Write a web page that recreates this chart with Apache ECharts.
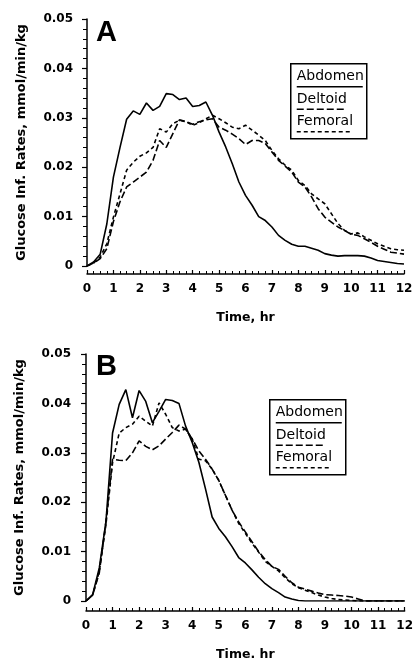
<!DOCTYPE html>
<html>
<head>
<meta charset="utf-8">
<script src="https://cdn.jsdelivr.net/npm/echarts@6/dist/echarts.min.js"></script>
<style>
  html, body { margin: 0; padding: 0; background: #fff; }
  #chart { width: 416px; height: 662px; }
</style>
</head>
<body>
<div id="chart"></div>
<script>
// time, hr (quarter-hour readings)
var hours = [0, 0.25, 0.5, 0.75, 1, 1.25, 1.5, 1.75, 2, 2.25, 2.5, 2.75, 3, 3.25, 3.5, 3.75,
  4, 4.25, 4.5, 4.75, 5, 5.25, 5.5, 5.75, 6, 6.25, 6.5, 6.75, 7, 7.25, 7.5, 7.75,
  8, 8.25, 8.5, 8.75, 9, 9.25, 9.5, 9.75, 10, 10.25, 10.5, 10.75, 11, 11.25, 11.5, 11.75, 12];

// panel A
var abdomenA = [0, 0.0008, 0.0024, 0.0085, 0.018, 0.024, 0.0297, 0.0314, 0.0307, 0.033, 0.0315, 0.0323, 0.0349, 0.0347, 0.0337, 0.034,
  0.0323, 0.0325, 0.0332, 0.0305, 0.0271, 0.0241, 0.0207, 0.017, 0.0143, 0.0123, 0.0100, 0.0092, 0.0079, 0.0062, 0.0052, 0.0044,
  0.0040, 0.0040, 0.0036, 0.0032, 0.0025, 0.0022, 0.0020, 0.0021, 0.0021, 0.0021, 0.0020, 0.0016, 0.0011, 0.0009, 0.0007, 0.0005, 0.0004];
var deltoidA = [0, 0.0006, 0.0015, 0.0035, 0.009, 0.013, 0.016, 0.017, 0.018, 0.019, 0.0214, 0.0254, 0.024, 0.0268, 0.0296, 0.0292,
  0.0287, 0.0292, 0.0296, 0.0298, 0.0281, 0.0275, 0.0267, 0.0258, 0.0246, 0.0254, 0.0254, 0.0248, 0.0231, 0.0214, 0.0202, 0.019,
  0.017, 0.016, 0.014, 0.0116, 0.0099, 0.0089, 0.0079, 0.0072, 0.0064, 0.0062, 0.0055, 0.0048, 0.0040, 0.0034, 0.0028, 0.0026, 0.0024];
var femoralA = [0, 0.0006, 0.0018, 0.0045, 0.0099, 0.0146, 0.0194, 0.021, 0.0222, 0.0229, 0.024, 0.0278, 0.0271, 0.0288, 0.0295, 0.0292,
  0.0285, 0.029, 0.0298, 0.0305, 0.0298, 0.029, 0.0281, 0.0278, 0.0285, 0.0275, 0.0265, 0.0254, 0.0234, 0.0217, 0.0204, 0.0194,
  0.0173, 0.0163, 0.0146, 0.0136, 0.0126, 0.0106, 0.0086, 0.0072, 0.0065, 0.0067, 0.0059, 0.0052, 0.0045, 0.0040, 0.0035, 0.0033, 0.0032];

// panel B
var abdomenB = [0, 0.0013, 0.0067, 0.016, 0.034, 0.0398, 0.0428, 0.0371, 0.0426, 0.0404, 0.0361, 0.0384, 0.0408, 0.0406, 0.040, 0.0354,
  0.0321, 0.0281, 0.0227, 0.017, 0.0147, 0.013, 0.011, 0.0088, 0.0077, 0.0063, 0.0048, 0.0035, 0.0025, 0.0017, 0.0008, 0.0004,
  0.0001, 0, 0, 0, 0, 0, 0, 0, 0, 0, 0, 0, 0, 0, 0, 0, 0];
var deltoidB = [0, 0.0012, 0.0057, 0.016, 0.0287, 0.0285, 0.0284, 0.030, 0.0324, 0.0313, 0.0306, 0.0314, 0.0328, 0.0341, 0.0356, 0.0348,
  0.0328, 0.0304, 0.0287, 0.0267, 0.0244, 0.0214, 0.0184, 0.016, 0.014, 0.012, 0.010, 0.0084, 0.007, 0.0064, 0.005, 0.0037,
  0.0028, 0.0024, 0.002, 0.0016, 0.0013, 0.0012, 0.0011, 0.0010, 0.0008, 0.0004, 0, 0, 0, 0, 0, 0, 0];
var femoralB = [0, 0.0012, 0.006, 0.0154, 0.028, 0.034, 0.0351, 0.0358, 0.0374, 0.0364, 0.0354, 0.0401, 0.0378, 0.0351, 0.0344, 0.0348,
  0.0328, 0.0287, 0.0284, 0.0267, 0.0244, 0.0214, 0.0184, 0.0157, 0.0137, 0.0117, 0.0099, 0.008, 0.007, 0.0061, 0.0047, 0.0035,
  0.0027, 0.0022, 0.0017, 0.0012, 0.0008, 0.0005, 0.0003, 0.0002, 0.0001, 0, 0, 0, 0, 0, 0, 0, 0];

var seriesNames = ['Abdomen', 'Deltoid', 'Femoral'];
var lineTypes = ['solid', [7, 3], [4, 3]];
var panelLetters = ['A', 'B'];
var xTitles = ['Time, hr', 'Time. hr'];
var yTitle = 'Glucose Inf. Rates, mmol/min/kg';

var tickFont = { fontFamily: 'DejaVu Sans', fontWeight: 'bold', fontSize: 12, color: '#000' };
var nameFont = { fontFamily: 'DejaVu Sans', fontWeight: 'bold', fontSize: 13, color: '#000' };

function pairs(vals) {
  return hours.map(function (h, i) { return [h, vals[i]]; });
}

function xAxisFor(idx, title, offset) {
  return {
    type: 'value', gridIndex: idx, min: 0, max: 12, interval: 1,
    offset: offset,
    name: title, nameLocation: 'middle', nameGap: 37,
    nameTextStyle: { fontFamily: 'DejaVu Sans', fontWeight: 'bold', fontSize: 12.5, color: '#000' },
    axisLine: { onZero: false, lineStyle: { color: '#000', width: 1.5 } },
    axisTick: { inside: true, length: 4, lineStyle: { color: '#000', width: 1.2 } },
    minorTick: { show: true, splitNumber: 4, length: 3, lineStyle: { color: '#000', width: 1 } },
    axisLabel: Object.assign({ margin: 9 }, tickFont),
    splitLine: { show: false }
  };
}

function yAxisFor(idx, offset) {
  return {
    type: 'value', gridIndex: idx, min: 0, max: 0.05, interval: 0.01,
    offset: offset,
    name: yTitle, nameLocation: 'middle', nameGap: 53,
    nameTextStyle: nameFont,
    axisLine: { show: true, lineStyle: { color: '#000', width: 1.5 } },
    axisTick: { show: true, inside: false, length: 5, lineStyle: { color: '#000', width: 1.2 } },
    minorTick: { show: true, splitNumber: 5, length: 4, lineStyle: { color: '#000', width: 1 } },
    axisLabel: Object.assign({
      margin: 8,
      formatter: function (v) { return v === 0 ? '0' : v.toFixed(2); }
    }, tickFont),
    splitLine: { show: false }
  };
}

function lineSeries(idx, nameIdx, vals) {
  return {
    type: 'line', name: seriesNames[nameIdx], xAxisIndex: idx, yAxisIndex: idx,
    data: pairs(vals), showSymbol: false, symbol: 'none', animation: false,
    lineStyle: { color: '#000', width: 1.6, type: lineTypes[nameIdx] }
  };
}

function legendBox(left, top) {
  var kids = [{
    type: 'rect', shape: { x: 0, y: 0, width: 76, height: 75 },
    style: { fill: '#fff', stroke: '#000', lineWidth: 1.5 }
  }];
  var lens = [66, 48, 56];
  for (var i = 0; i < 3; i++) {
    var ty = 13 + i * 22.5;
    kids.push({
      type: 'text', x: 6, y: ty,
      style: { text: seriesNames[i], font: '14px "DejaVu Sans"', fill: '#000', verticalAlign: 'middle' }
    });
    kids.push({
      type: 'line', shape: { x1: 6, y1: ty + 10, x2: 6 + lens[i], y2: ty + 10 },
      style: { stroke: '#000', lineWidth: 1.6, lineDash: lineTypes[i] === 'solid' ? null : lineTypes[i] }
    });
  }
  return { type: 'group', left: left, top: top, children: kids };
}

var chart = echarts.init(document.getElementById('chart'), null, { renderer: 'canvas' });
chart.setOption({
  backgroundColor: '#fff',
  animation: false,
  grid: [
    { left: 87, top: 19, width: 317, height: 247 },
    { left: 86, top: 354, width: 322, height: 249 }
  ],
  xAxis: [xAxisFor(0, xTitles[0], 8), xAxisFor(1, xTitles[1], 10)],
  yAxis: [yAxisFor(0, 6), yAxisFor(1, 7)],
  series: [
    lineSeries(0, 0, abdomenA), lineSeries(0, 1, deltoidA), lineSeries(0, 2, femoralA),
    lineSeries(1, 0, abdomenB), lineSeries(1, 1, deltoidB), lineSeries(1, 2, femoralB)
  ],
  graphic: [
    { type: 'text', left: 96, top: 18, style: { text: panelLetters[0], font: 'bold 29px "Liberation Sans", Arial', fill: '#000' } },
    { type: 'text', left: 96, top: 352, style: { text: panelLetters[1], font: 'bold 29px "Liberation Sans", Arial', fill: '#000' } },
    legendBox(290, 63),
    legendBox(269, 399)
  ]
});
</script>
</body>
</html>
